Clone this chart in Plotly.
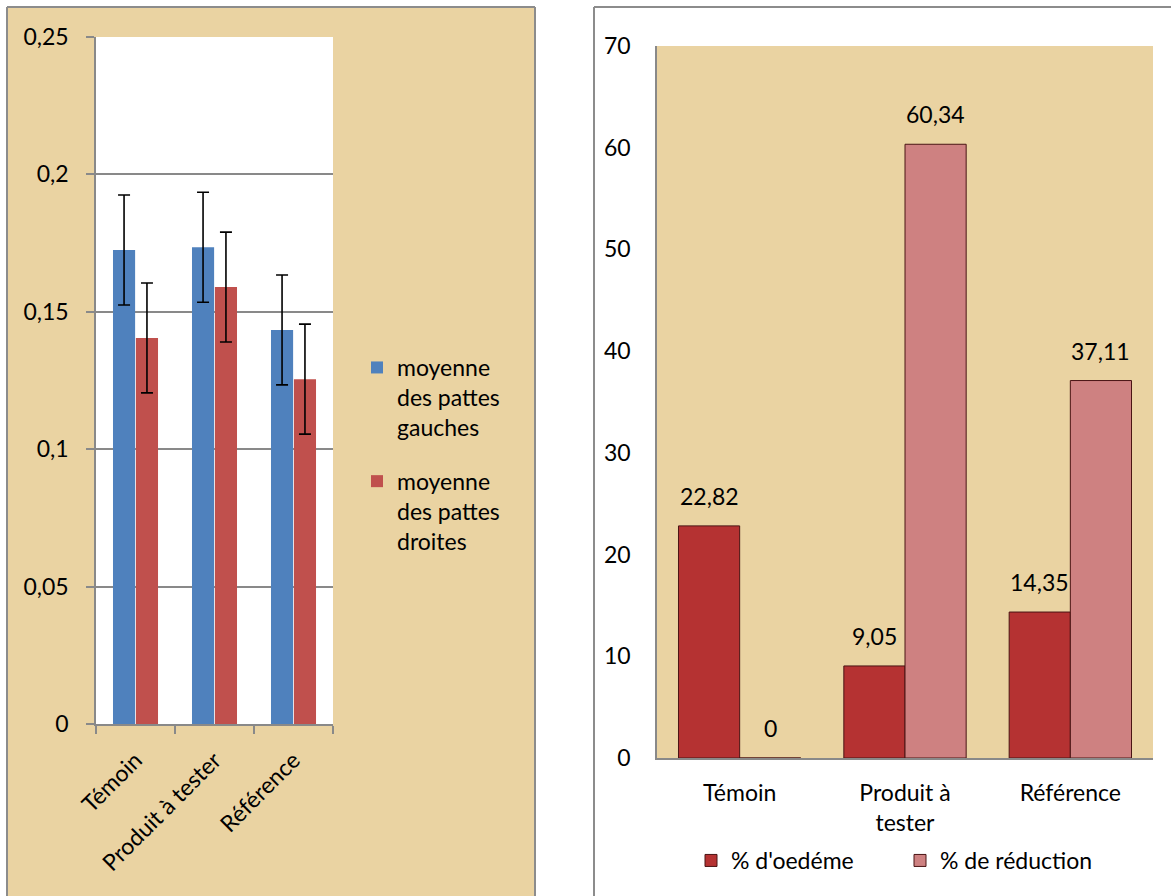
import plotly.graph_objects as go

# ---- data -------------------------------------------------------------
cats_left = ["Témoin", "Produit à tester", "Référence"]
gauche = [0.1725, 0.1735, 0.1434]
droite = [0.1405, 0.159, 0.1255]
err_gauche = [0.02, 0.02, 0.02]
err_droite = [0.02, 0.02, 0.02]
y_ticks_left = [0, 0.05, 0.1, 0.15, 0.2, 0.25]
y_labels_left = ["0", "0,05", "0,1", "0,15", "0,2", "0,25"]

cats_right = ["Témoin", "Produit à<br>tester", "Référence"]
oedeme = [22.82, 9.05, 14.35]
reduction = [0, 60.34, 37.11]
y_ticks_right = [0, 10, 20, 30, 40, 50, 60, 70]

# ---- styling ------------------------------------------------------------
W, H = 1171, 896
FONT = "Lato"
FS = 23
PAPYRUS = "#EAD3A2"
BORDER = "#8C8C8C"
AXIS = "#898989"


def px_x(p):
    return p / W


def px_y(p):
    return 1 - p / H


def fmt(v):
    return ("%g" % v).replace(".", ",")


fig = go.Figure()

# left chart: grouped bars with error bars
bw_l = 0.28
fig.add_trace(go.Bar(
    x=cats_left, y=gauche, name="moyenne<br>des pattes<br>gauches",
    width=bw_l, offset=-0.285, marker=dict(color="#4F81BD", line=dict(width=0)),
    error_y=dict(type="data", array=err_gauche, color="black", thickness=1.6, width=6),
    xaxis="x", yaxis="y", legend="legend", legendgroup="g",
))
fig.add_trace(go.Bar(
    x=cats_left, y=droite, name="moyenne<br>des pattes<br>droites",
    width=bw_l, offset=0.005, marker=dict(color="#C0504D", line=dict(width=0)),
    error_y=dict(type="data", array=err_droite, color="black", thickness=1.6, width=6),
    xaxis="x", yaxis="y", legend="legend", legendgroup="d",
))

# right chart: percentages
bw_r = 0.37
off_r = [-0.37, 0.0]
fig.add_trace(go.Bar(
    x=cats_right, y=oedeme, name="% d'oedéme",
    width=bw_r, offset=off_r[0],
    marker=dict(color="#B53232", line=dict(color="#4A1414", width=1)),
    xaxis="x2", yaxis="y2", legend="legend2",
))
fig.add_trace(go.Bar(
    x=cats_right, y=reduction, name="% de réduction",
    width=bw_r, offset=off_r[1],
    marker=dict(color="#CE8181", line=dict(color="#4A1414", width=1)),
    xaxis="x2", yaxis="y2", legend="legend2",
))

# value labels above the right-hand bars
annotations = []
for series, off in ((oedeme, off_r[0]), (reduction, off_r[1])):
    for i, v in enumerate(series):
        annotations.append(dict(
            x=i + off + bw_r / 2, y=v, xref="x2", yref="y2",
            text=fmt(v), showarrow=False, yanchor="bottom", yshift=14,
            font=dict(family=FONT, size=FS, color="black"),
        ))

frame = dict(color=BORDER, width=2)
shapes = [
    # left panel background
    dict(type="rect", xref="paper", yref="paper",
         x0=px_x(7), x1=px_x(535), y0=0, y1=px_y(7),
         fillcolor=PAPYRUS, line=dict(width=0), layer="below"),
    # left panel frame (left, top, right edges)
    dict(type="line", xref="paper", yref="paper", x0=px_x(7), x1=px_x(7),
         y0=0, y1=px_y(7), line=frame, layer="below"),
    dict(type="line", xref="paper", yref="paper", x0=px_x(7), x1=px_x(535),
         y0=px_y(7), y1=px_y(7), line=frame, layer="below"),
    dict(type="line", xref="paper", yref="paper", x0=px_x(535), x1=px_x(535),
         y0=0, y1=px_y(7), line=frame, layer="below"),
    # left plot area is white
    dict(type="rect", xref="x domain", yref="y domain", x0=0, x1=1, y0=0, y1=1,
         fillcolor="white", line=dict(width=0), layer="below"),
    # right panel frame (left and top edges)
    dict(type="line", xref="paper", yref="paper", x0=px_x(594), x1=px_x(594),
         y0=0, y1=px_y(7), line=frame, layer="below"),
    dict(type="line", xref="paper", yref="paper", x0=px_x(594), x1=1,
         y0=px_y(7), y1=px_y(7), line=frame, layer="below"),
    # right plot area papyrus
    dict(type="rect", xref="x2 domain", yref="y2 domain", x0=0, x1=1, y0=0, y1=1,
         fillcolor=PAPYRUS, line=dict(width=0), layer="below"),
]

tickfont = dict(family=FONT, size=FS, color="black")

fig.update_layout(
    width=W, height=H, autosize=False,
    margin=dict(l=0, r=0, t=0, b=0, pad=0),
    paper_bgcolor="white", plot_bgcolor="rgba(0,0,0,0)",
    barmode="overlay", separators=", ",
    font=dict(family=FONT, size=FS, color="black"),
    shapes=shapes, annotations=annotations,
    xaxis=dict(domain=[px_x(96), px_x(333)], anchor="y", type="category",
               automargin=False,
               showline=True, linecolor=AXIS, linewidth=1.5,
               ticks="outside", tickson="boundaries", ticklen=8, tickcolor=AXIS,
               tickwidth=1.5, tickangle=-45, showgrid=False,
               ticklabelstandoff=12, tickfont=tickfont),
    yaxis=dict(domain=[px_y(724), px_y(37)], anchor="x", range=[0, 0.25],
               automargin=False,
               tickvals=y_ticks_left, ticktext=y_labels_left,
               showline=True, linecolor=AXIS, linewidth=1.5,
               ticks="outside", ticklen=8, tickcolor=AXIS, tickwidth=1.5,
               ticklabelstandoff=13,
               showgrid=True, gridcolor=AXIS, gridwidth=1.5, zeroline=False,
               tickfont=tickfont),
    xaxis2=dict(domain=[px_x(657), px_x(1153)], anchor="y2", type="category",
                automargin=False,
                showline=True, linecolor=AXIS, linewidth=1.5,
                ticks="", showgrid=False, ticklabelstandoff=14, tickfont=tickfont),
    yaxis2=dict(domain=[px_y(758), px_y(46)], anchor="x2", range=[0, 70],
                automargin=False,
                tickvals=y_ticks_right, showline=True, linecolor=AXIS, linewidth=1.5,
                ticks="", showgrid=False, zeroline=False, ticklabelstandoff=20,
                tickfont=tickfont),
    legend=dict(x=px_x(357), y=px_y(346), xanchor="left", yanchor="top",
                bgcolor="rgba(0,0,0,0)", valign="top", tracegroupgap=21,
                font=dict(family=FONT, size=FS)),
    legend2=dict(orientation="h", x=px_x(691), y=px_y(839), xanchor="left",
                 yanchor="top", bgcolor="rgba(0,0,0,0)",
                 entrywidth=164, entrywidthmode="pixels",
                 font=dict(family=FONT, size=FS)),
)

fig.write_html("out.html")
